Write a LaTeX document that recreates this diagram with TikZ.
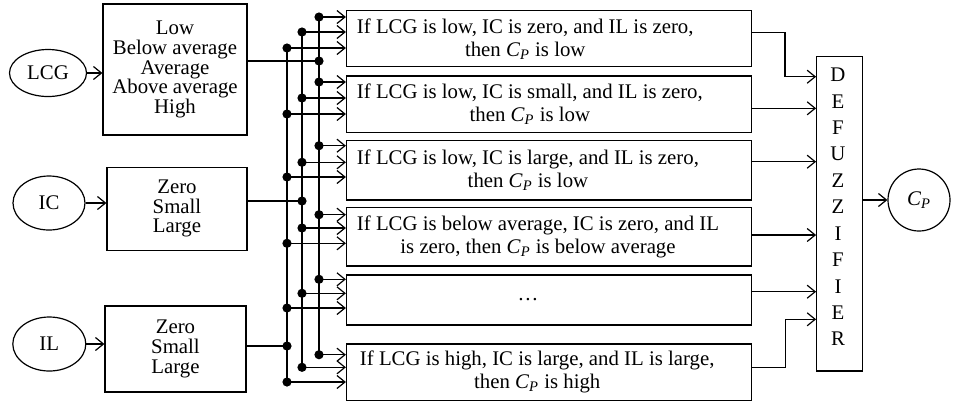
\documentclass[tikz,border=0pt]{standalone}
\usepackage{fontspec}
\setmainfont{Liberation Serif}
\usepackage{tikz}
\usetikzlibrary{positioning,arrows.meta,shapes.geometric}
\newcommand{\cpvar}{\textit{C}\textsubscript{\textit{P}}}
\tikzset{
    base/.style={font=\fontsize{10.4pt}{9.8pt}\selectfont, align=center},
    invar/.style={base, ellipse, draw, line width=0.6pt, inner sep=0pt},
    setbox/.style={base, rectangle, draw, line width=0.6pt},
    rulebox/.style={rectangle, draw, line width=0.6pt, minimum width=202.5pt},
    ruletext/.style={base, font=\fontsize{10.4pt}{11.5pt}\selectfont, anchor=west},
    defuzz/.style={rectangle, draw, line width=0.6pt, minimum width=22.8pt, minimum height=157.2pt},
    wire/.style={line width=0.6pt},
    flow/.style={wire, -{Straight Barb[length=4pt,width=6.5pt]}}
}

\begin{document}
\begin{tikzpicture}[x=0.5pt,y=-0.5pt]
  \useasboundingbox (0,0) rectangle (954,404);
  \node[invar, minimum width=38.5pt, minimum height=23.5pt] (lcg) at (48,73) {LCG};
  \node[invar, minimum width=36pt, minimum height=27pt] (ic) at (49,203) {IC};
  \node[invar, minimum width=36.5pt, minimum height=27pt] (il) at (49.3,344) {IL};
  \node[setbox, minimum width=72pt, minimum height=65.5pt] (lcgset) at (175,69.5) {Low\\Below average\\Average\\Above average\\High};
  \node[setbox, minimum width=70pt, minimum height=41.5pt] (icset) at (177,208.7) {Zero\\Small\\Large};
  \node[setbox, minimum width=70.5pt, minimum height=43pt] (ilset) at (175.5,349) {Zero\\Small\\Large};
  \draw[flow] (lcg.east) -- (lcg.east -| lcgset.west);
  \draw[flow] (ic.east) -- (ic.east -| icset.west);
  \draw[flow] (il.east) -- (il.east -| ilset.west);

  \node[rulebox, minimum height=28pt] (r1) at (549,38.7) {};
  \node[rulebox, minimum height=28.3pt] (r2) at (549,104.3) {};
  \node[rulebox, minimum height=29.7pt] (r3) at (549,170.3) {};
  \node[rulebox, minimum height=29.2pt] (r4) at (549,236.8) {};
  \node[rulebox, minimum height=25pt] (r5) at (549,300) {};
  \node[rulebox, minimum height=28.3pt] (r6) at (549,372.3) {};
  \node[ruletext] (t1) at ([xshift=2pt]r1.west) {If LCG is low, IC is zero, and IL is zero,\\then \cpvar{} is low};
  \node[ruletext] (t2) at ([xshift=2pt]r2.west) {If LCG is low, IC is small, and IL is zero,\\then \cpvar{} is low};
  \node[ruletext] (t3) at ([xshift=2pt]r3.west) {If LCG is low, IC is large, and IL is zero,\\then \cpvar{} is low};
  \node[ruletext] (t4) at ([xshift=2pt]r4.west) {If LCG is below average, IC is zero, and IL\\is zero, then \cpvar{} is below average};
  \node[ruletext, anchor=center] (t5) at ([xshift=-10.5pt]r5.center) {\dots};
  \node[ruletext] (t6) at ([xshift=3.5pt]r6.west) {If LCG is high, IC is large, and IL is large,\\then \cpvar{} is high};

  \draw[wire] (319,17) -- (319,354.7);
  \draw[wire] (302,32) -- (302,367.3);
  \draw[wire] (287,48) -- (287,382);
  \draw[wire] (lcgset.east |- 0,61) -- (319,61);
  \draw[wire] (icset.east |- 0,201) -- (302,201);
  \draw[wire] (ilset.east |- 0,346) -- (287,346);
  \foreach \x/\y in {319/61, 302/201, 287/346}
    \fill (\x,\y) circle (2.3pt);
  \foreach \r/\a/\b/\c in {r1/17/32/48, r2/82/98/114, r3/145.7/162.3/177,
      r4/214.7/228/243.3, r5/279.3/293.3/308, r6/354.7/367.3/382} {
    \draw[flow] (319,\a) -- (\r.west |- 0,\a);
    \draw[flow] (302,\b) -- (\r.west |- 0,\b);
    \draw[flow] (287,\c) -- (\r.west |- 0,\c);
    \fill (319,\a) circle (2.3pt) (302,\b) circle (2.3pt) (287,\c) circle (2.3pt);
  }

  \node[defuzz] (dfz) at (839.5,213.8) {};
  \foreach \l [count=\i from 0] in {D,E,F,U,Z,Z,I,F,I,E,R}
    \node[base] (d\i) at (838,75+26.4*\i) {\l};
  \draw[flow] (r1.east |- 0,32.3) -- (785,32.3) |- (dfz.west |- 0,76.7);
  \draw[flow] (r2.east |- 0,108.3) -- (dfz.west |- 0,108.3);
  \draw[flow] (r3.east |- 0,161.7) -- (dfz.west |- 0,161.7);
  \draw[flow] (r4.east |- 0,235) -- (dfz.west |- 0,235);
  \draw[flow] (r5.east |- 0,291.7) -- (dfz.west |- 0,291.7);
  \draw[flow] (r6.east |- 0,367.7) -- (785.7,367.7) |- (dfz.west |- 0,319.3);

  \node[invar, minimum width=31pt, minimum height=31pt] (cp) at (919,200) {\cpvar};
  \draw[flow] (dfz.east |- cp) -- (cp.west);
\end{tikzpicture}
\end{document}
